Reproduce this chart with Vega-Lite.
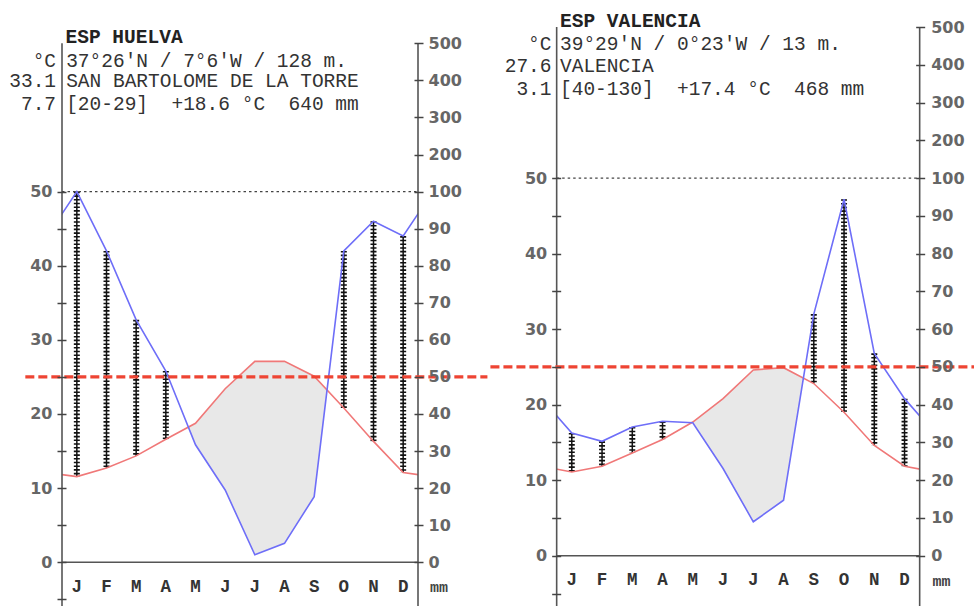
{
  "$schema": "https://vega.github.io/schema/vega-lite/v6.json",
  "background": "white",
  "padding": {"left": 9, "top": 11, "right": 0, "bottom": 0},
  "spacing": 138.67,
  "bounds": "flush",
  "config": {"view": {"stroke": null}},
  "datasets": {
    "huelva": [
      {"m": 0, "month": "D", "t": 12.1, "p": 88, "wrap": true},
      {"m": 1, "month": "J", "t": 11.55, "p": 100},
      {"m": 2, "month": "F", "t": 12.7, "p": 84},
      {"m": 3, "month": "M", "t": 14.35, "p": 65.4},
      {"m": 4, "month": "A", "t": 16.6, "p": 51.6},
      {"m": 5, "month": "M", "t": 18.75, "p": 31.7},
      {"m": 6, "month": "J", "t": 23.4, "p": 19.5},
      {"m": 7, "month": "J", "t": 27.1, "p": 2},
      {"m": 8, "month": "A", "t": 27.1, "p": 5.1},
      {"m": 9, "month": "S", "t": 25.1, "p": 17.7},
      {"m": 10, "month": "O", "t": 20.8, "p": 84},
      {"m": 11, "month": "N", "t": 16.3, "p": 92},
      {"m": 12, "month": "D", "t": 12.1, "p": 88},
      {"m": 13, "month": "J", "t": 11.55, "p": 100, "wrap": true}
    ],
    "valencia": [
      {"m": 0, "month": "D", "t": 11.85, "p": 41.6, "wrap": true},
      {"m": 1, "month": "J", "t": 11.1, "p": 32.5},
      {"m": 2, "month": "F", "t": 11.85, "p": 30.3},
      {"m": 3, "month": "M", "t": 13.6, "p": 34.1},
      {"m": 4, "month": "A", "t": 15.4, "p": 35.6},
      {"m": 5, "month": "M", "t": 17.7, "p": 35.2},
      {"m": 6, "month": "J", "t": 20.8, "p": 23.1},
      {"m": 7, "month": "J", "t": 24.6, "p": 9.0},
      {"m": 8, "month": "A", "t": 24.9, "p": 14.7},
      {"m": 9, "month": "S", "t": 22.8, "p": 64},
      {"m": 10, "month": "O", "t": 19.0, "p": 94.4},
      {"m": 11, "month": "N", "t": 14.6, "p": 53.6},
      {"m": 12, "month": "D", "t": 11.85, "p": 41.6},
      {"m": 13, "month": "J", "t": 11.1, "p": 32.5, "wrap": true}
    ]
  },
  "hconcat": [
    {
      "width": 356,
      "height": 579,
      "data": {"name": "huelva"},
      "resolve": {"scale": {"y": "independent"}},
      "layer": [
        {
          "mark": {"type": "area", "color": "#e8e8e8", "clip": true},
          "encoding": {
            "x": {"field": "m", "type": "quantitative", "scale": {"domain": [0.5, 12.5], "nice": false, "zero": false},
              "axis": {"orient": "bottom", "offset": -48.7, "domain": false, "grid": false, "labels": false, "values": [0.5,1.5,2.5,3.5,4.5,5.5,6.5,7.5,8.5,9.5,10.5,11.5,12.5],
                "tickSize": 10, "tickColor": "#444", "tickWidth": 1.5, "title": null, "zindex": 1}},
            "y": {"field": "t", "type": "quantitative", "scale": {"domain": [-5.9, 72.2], "nice": false, "zero": false},
              "axis": {"orient": "left", "offset": -4, "domain": false, "grid": false, "values": [-5,0,5,10,15,20,25,30,35,40,45,50],
                "tickSize": 9, "tickColor": "#444", "tickWidth": 1.5,
                "labelExpr": "datum.value % 10 == 0 && datum.value >= 0 ? datum.label : ''",
                "labelPadding": 5, "labelFont": "DejaVu Sans", "labelFontWeight": "bold", "labelFontSize": 16, "labelColor": "#666",
                "labelOverlap": false, "labelFlush": false, "title": null, "zindex": 1}},
            "y2": {"datum": 0}
          }
        },
        {
          "layer": [
            {
              "mark": {"type": "area", "color": "white", "clip": true},
              "encoding": {
                "x": {"field": "m", "type": "quantitative", "scale": {"domain": [0.5, 12.5], "nice": false, "zero": false}, "axis": null},
                "y": {"field": "p", "type": "quantitative", "scale": {"domain": [-11.8, 144.4], "nice": false, "zero": false},
                  "axis": {"orient": "right", "offset": -4, "domain": false, "grid": false, "values": [0,10,20,30,40,50,60,70,80,90,100,110,120,130,140],
                    "tickSize": 9, "tickColor": "#444", "tickWidth": 1.5,
                    "labelExpr": "datum.value <= 100 ? datum.label : format((datum.value - 100) * 10 + 100, 'd')",
                    "labelPadding": 5, "labelFont": "DejaVu Sans", "labelFontWeight": "bold", "labelFontSize": 16, "labelColor": "#666",
                    "labelOverlap": false, "labelFlush": false, "title": null, "zindex": 1}},
                "y2": {"datum": 0}
              }
            },
            {
              "transform": [{"filter": "datum.m >= 1 && datum.m <= 12 && datum.p > 2 * datum.t"}],
              "mark": {"type": "rule", "stroke": "#111", "strokeWidth": 1.5, "clip": true},
              "encoding": {
                "x": {"field": "m", "type": "quantitative", "scale": {"domain": [0.5, 12.5], "nice": false, "zero": false}, "axis": null},
                "y": {"field": "p", "type": "quantitative", "scale": {"domain": [-11.8, 144.4], "nice": false, "zero": false}},
                "y2": {"datum": 0}
              }
            },
            {
              "transform": [{"filter": "datum.m >= 1 && datum.m <= 12 && datum.p > 2 * datum.t"}],
              "mark": {"type": "rule", "stroke": "#111", "strokeWidth": 6, "strokeDash": [1.6, 2.1], "clip": true},
              "encoding": {
                "x": {"field": "m", "type": "quantitative", "scale": {"domain": [0.5, 12.5], "nice": false, "zero": false}, "axis": null},
                "y": {"field": "p", "type": "quantitative", "scale": {"domain": [-11.8, 144.4], "nice": false, "zero": false}},
                "y2": {"datum": 0}
              }
            }
          ]
        },
        {
          "layer": [
            {
              "transform": [{"filter": "datum.m >= 1 && datum.m <= 12 && datum.p > 2 * datum.t"}],
              "mark": {"type": "rule", "stroke": "white", "strokeWidth": 8, "clip": true},
              "encoding": {
                "x": {"field": "m", "type": "quantitative", "scale": {"domain": [0.5, 12.5], "nice": false, "zero": false}, "axis": null},
                "y": {"field": "t", "type": "quantitative", "scale": {"domain": [-5.9, 72.2], "nice": false, "zero": false}, "axis": null},
                "y2": {"datum": 0}
              }
            },
            {
              "mark": {"type": "line", "stroke": "#f07878", "strokeWidth": 1.6, "clip": true},
              "encoding": {
                "x": {"field": "m", "type": "quantitative", "scale": {"domain": [0.5, 12.5], "nice": false, "zero": false}, "axis": null},
                "y": {"field": "t", "type": "quantitative", "scale": {"domain": [-5.9, 72.2], "nice": false, "zero": false}, "axis": null}
              }
            },
            {
              "transform": [{"filter": "datum.m >= 1 && datum.m <= 12"}],
              "mark": {"type": "text", "align": "center", "baseline": "middle", "font": "Liberation Mono", "fontSize": 17.5, "fontWeight": "bold", "color": "#333"},
              "encoding": {
                "x": {"field": "m", "type": "quantitative", "scale": {"domain": [0.5, 12.5], "nice": false, "zero": false}, "axis": null},
                "y": {"datum": -3.33, "type": "quantitative", "scale": {"domain": [-5.9, 72.2], "nice": false, "zero": false}, "axis": null},
                "text": {"field": "month"}
              }
            }
          ]
        },
        {
          "mark": {"type": "line", "stroke": "#6e6ef8", "strokeWidth": 1.6, "clip": true},
          "encoding": {
            "x": {"field": "m", "type": "quantitative", "scale": {"domain": [0.5, 12.5], "nice": false, "zero": false}, "axis": null},
            "y": {"field": "p", "type": "quantitative", "scale": {"domain": [-11.8, 144.4], "nice": false, "zero": false}, "axis": null}
          }
        },
        {
          "data": {"values": [{}]},
          "layer": [
            {"mark": {"type": "rule", "stroke": "#555", "strokeWidth": 1.6},
             "encoding": {"x": {"datum": 0.5, "type": "quantitative", "scale": {"domain": [0.5, 12.5], "nice": false, "zero": false}, "axis": null},
               "y": {"datum": 70, "type": "quantitative", "scale": {"domain": [-5.9, 72.2], "nice": false, "zero": false}, "axis": null}, "y2": {"datum": -5.9}}},
            {"mark": {"type": "rule", "stroke": "#555", "strokeWidth": 1.6},
             "encoding": {"x": {"datum": 12.5, "type": "quantitative"}, "y": {"datum": 70, "type": "quantitative"}, "y2": {"datum": -5.9}}},
            {"mark": {"type": "rule", "stroke": "#555", "strokeWidth": 1.6},
             "encoding": {"x": {"datum": 0.5, "type": "quantitative"}, "x2": {"datum": 12.5}, "y": {"datum": 0, "type": "quantitative"}}},
            {"mark": {"type": "rule", "stroke": "#444", "strokeWidth": 1.3, "strokeDash": [2.5, 3]},
             "encoding": {"x": {"datum": 0.5, "type": "quantitative"}, "x2": {"datum": 12.5}, "y": {"datum": 50, "type": "quantitative"}}},
            {"mark": {"type": "rule", "stroke": "#ee4433", "strokeWidth": 3.2, "strokeDash": [9, 4]},
             "encoding": {"x": {"datum": -0.736, "type": "quantitative"}, "x2": {"datum": 14.84}, "y": {"datum": 25, "type": "quantitative"}}},
            {"mark": {"type": "text", "align": "center", "baseline": "middle", "font": "Liberation Mono", "fontSize": 15, "fontWeight": "bold", "color": "#444"},
             "encoding": {"x": {"datum": 13.21, "type": "quantitative"}, "y": {"datum": -3.37, "type": "quantitative"}, "text": {"value": "mm"}}},
            {"mark": {"type": "text", "align": "left", "baseline": "middle", "font": "Liberation Mono", "fontSize": 19.5, "fontWeight": "bold", "color": "#222"},
             "encoding": {"x": {"datum": 0.62, "type": "quantitative"}, "y": {"datum": 70.79, "type": "quantitative"}, "text": {"value": "ESP HUELVA"}}},
            {"mark": {"type": "text", "align": "left", "baseline": "middle", "font": "Liberation Mono", "fontSize": 19.5, "color": "#333"},
             "encoding": {"x": {"datum": 0.64, "type": "quantitative"}, "y": {"datum": 67.61, "type": "quantitative"}, "text": {"value": "37°26'N / 7°6'W / 128 m."}}},
            {"mark": {"type": "text", "align": "left", "baseline": "middle", "font": "Liberation Mono", "fontSize": 19.5, "color": "#333"},
             "encoding": {"x": {"datum": 0.64, "type": "quantitative"}, "y": {"datum": 64.91, "type": "quantitative"}, "text": {"value": "SAN BARTOLOME DE LA TORRE"}}},
            {"mark": {"type": "text", "align": "left", "baseline": "middle", "font": "Liberation Mono", "fontSize": 19.5, "color": "#333"},
             "encoding": {"x": {"datum": 0.64, "type": "quantitative"}, "y": {"datum": 61.81, "type": "quantitative"}, "text": {"value": "[20-29]\u00a0\u00a0+18.6 °C\u00a0\u00a0640 mm"}}},
            {"mark": {"type": "text", "align": "right", "baseline": "middle", "font": "Liberation Mono", "fontSize": 19.5, "color": "#333"},
             "encoding": {"x": {"datum": 0.3, "type": "quantitative"}, "y": {"datum": 67.61, "type": "quantitative"}, "text": {"value": "°C"}}},
            {"mark": {"type": "text", "align": "right", "baseline": "middle", "font": "Liberation Mono", "fontSize": 19.5, "color": "#333"},
             "encoding": {"x": {"datum": 0.3, "type": "quantitative"}, "y": {"datum": 64.91, "type": "quantitative"}, "text": {"value": "33.1"}}},
            {"mark": {"type": "text", "align": "right", "baseline": "middle", "font": "Liberation Mono", "fontSize": 19.5, "color": "#333"},
             "encoding": {"x": {"datum": 0.3, "type": "quantitative"}, "y": {"datum": 61.81, "type": "quantitative"}, "text": {"value": "7.7"}}}
          ]
        }
      ]
    },
    {
      "width": 363,
      "height": 579,
      "data": {"name": "valencia"},
      "resolve": {"scale": {"y": "independent"}},
      "layer": [
        {
          "mark": {"type": "area", "color": "#e8e8e8", "clip": true},
          "encoding": {
            "x": {"field": "m", "type": "quantitative", "scale": {"domain": [0.5, 12.5], "nice": false, "zero": false},
              "axis": {"orient": "bottom", "offset": -55.2, "domain": false, "grid": false, "labels": false, "values": [0.5,1.5,2.5,3.5,4.5,5.5,6.5,7.5,8.5,9.5,10.5,11.5,12.5],
                "tickSize": 10, "tickColor": "#444", "tickWidth": 1.5, "title": null, "zindex": 1}},
            "y": {"field": "t", "type": "quantitative", "scale": {"domain": [-6.65, 70], "nice": false, "zero": false},
              "axis": {"orient": "left", "offset": -4, "domain": false, "grid": false, "values": [-5,0,5,10,15,20,25,30,35,40,45,50],
                "tickSize": 9, "tickColor": "#444", "tickWidth": 1.5,
                "labelExpr": "datum.value % 10 == 0 && datum.value >= 0 ? datum.label : ''",
                "labelPadding": 5, "labelFont": "DejaVu Sans", "labelFontWeight": "bold", "labelFontSize": 16, "labelColor": "#666",
                "labelOverlap": false, "labelFlush": false, "title": null, "zindex": 1}},
            "y2": {"datum": 0}
          }
        },
        {
          "layer": [
            {
              "mark": {"type": "area", "color": "white", "clip": true},
              "encoding": {
                "x": {"field": "m", "type": "quantitative", "scale": {"domain": [0.5, 12.5], "nice": false, "zero": false}, "axis": null},
                "y": {"field": "p", "type": "quantitative", "scale": {"domain": [-13.3, 140], "nice": false, "zero": false},
                  "axis": {"orient": "right", "offset": -4, "domain": false, "grid": false, "values": [0,10,20,30,40,50,60,70,80,90,100,110,120,130,140],
                    "tickSize": 9, "tickColor": "#444", "tickWidth": 1.5,
                    "labelExpr": "datum.value <= 100 ? datum.label : format((datum.value - 100) * 10 + 100, 'd')",
                    "labelPadding": 6, "labelFont": "DejaVu Sans", "labelFontWeight": "bold", "labelFontSize": 16, "labelColor": "#666",
                    "labelOverlap": false, "labelFlush": false, "title": null, "zindex": 1}},
                "y2": {"datum": 0}
              }
            },
            {
              "transform": [{"filter": "datum.m >= 1 && datum.m <= 12 && datum.p > 2 * datum.t"}],
              "mark": {"type": "rule", "stroke": "#111", "strokeWidth": 1.5, "clip": true},
              "encoding": {
                "x": {"field": "m", "type": "quantitative", "scale": {"domain": [0.5, 12.5], "nice": false, "zero": false}, "axis": null},
                "y": {"field": "p", "type": "quantitative", "scale": {"domain": [-13.3, 140], "nice": false, "zero": false}},
                "y2": {"datum": 0}
              }
            },
            {
              "transform": [{"filter": "datum.m >= 1 && datum.m <= 12 && datum.p > 2 * datum.t"}],
              "mark": {"type": "rule", "stroke": "#111", "strokeWidth": 6, "strokeDash": [1.6, 2.1], "clip": true},
              "encoding": {
                "x": {"field": "m", "type": "quantitative", "scale": {"domain": [0.5, 12.5], "nice": false, "zero": false}, "axis": null},
                "y": {"field": "p", "type": "quantitative", "scale": {"domain": [-13.3, 140], "nice": false, "zero": false}},
                "y2": {"datum": 0}
              }
            }
          ]
        },
        {
          "layer": [
            {
              "transform": [{"filter": "datum.m >= 1 && datum.m <= 12 && datum.p > 2 * datum.t"}],
              "mark": {"type": "rule", "stroke": "white", "strokeWidth": 8, "clip": true},
              "encoding": {
                "x": {"field": "m", "type": "quantitative", "scale": {"domain": [0.5, 12.5], "nice": false, "zero": false}, "axis": null},
                "y": {"field": "t", "type": "quantitative", "scale": {"domain": [-6.65, 70], "nice": false, "zero": false}, "axis": null},
                "y2": {"datum": 0}
              }
            },
            {
              "mark": {"type": "line", "stroke": "#f07878", "strokeWidth": 1.6, "clip": true},
              "encoding": {
                "x": {"field": "m", "type": "quantitative", "scale": {"domain": [0.5, 12.5], "nice": false, "zero": false}, "axis": null},
                "y": {"field": "t", "type": "quantitative", "scale": {"domain": [-6.65, 70], "nice": false, "zero": false}, "axis": null}
              }
            },
            {
              "transform": [{"filter": "datum.m >= 1 && datum.m <= 12"}],
              "mark": {"type": "text", "align": "center", "baseline": "middle", "font": "Liberation Mono", "fontSize": 17.5, "fontWeight": "bold", "color": "#333"},
              "encoding": {
                "x": {"field": "m", "type": "quantitative", "scale": {"domain": [0.5, 12.5], "nice": false, "zero": false}, "axis": null},
                "y": {"datum": -3.25, "type": "quantitative", "scale": {"domain": [-6.65, 70], "nice": false, "zero": false}, "axis": null},
                "text": {"field": "month"}
              }
            }
          ]
        },
        {
          "mark": {"type": "line", "stroke": "#6e6ef8", "strokeWidth": 1.6, "clip": true},
          "encoding": {
            "x": {"field": "m", "type": "quantitative", "scale": {"domain": [0.5, 12.5], "nice": false, "zero": false}, "axis": null},
            "y": {"field": "p", "type": "quantitative", "scale": {"domain": [-13.3, 140], "nice": false, "zero": false}, "axis": null}
          }
        },
        {
          "data": {"values": [{}]},
          "layer": [
            {"mark": {"type": "rule", "stroke": "#555", "strokeWidth": 1.6},
             "encoding": {"x": {"datum": 0.5, "type": "quantitative", "scale": {"domain": [0.5, 12.5], "nice": false, "zero": false}, "axis": null},
               "y": {"datum": 70, "type": "quantitative", "scale": {"domain": [-6.65, 70], "nice": false, "zero": false}, "axis": null}, "y2": {"datum": -6.65}}},
            {"mark": {"type": "rule", "stroke": "#555", "strokeWidth": 1.6},
             "encoding": {"x": {"datum": 12.5, "type": "quantitative"}, "y": {"datum": 70, "type": "quantitative"}, "y2": {"datum": -6.65}}},
            {"mark": {"type": "rule", "stroke": "#555", "strokeWidth": 1.6},
             "encoding": {"x": {"datum": 0.5, "type": "quantitative"}, "x2": {"datum": 12.5}, "y": {"datum": 0, "type": "quantitative"}}},
            {"mark": {"type": "rule", "stroke": "#444", "strokeWidth": 1.3, "strokeDash": [2.5, 3]},
             "encoding": {"x": {"datum": 0.5, "type": "quantitative"}, "x2": {"datum": 12.5}, "y": {"datum": 50, "type": "quantitative"}}},
            {"mark": {"type": "rule", "stroke": "#ee4433", "strokeWidth": 3.2, "strokeDash": [9, 4]},
             "encoding": {"x": {"datum": -1.69, "type": "quantitative"}, "x2": {"datum": 14.3}, "y": {"datum": 25, "type": "quantitative"}}},
            {"mark": {"type": "text", "align": "center", "baseline": "middle", "font": "Liberation Mono", "fontSize": 15, "fontWeight": "bold", "color": "#444"},
             "encoding": {"x": {"datum": 13.22, "type": "quantitative"}, "y": {"datum": -3.34, "type": "quantitative"}, "text": {"value": "mm"}}},
            {"mark": {"type": "text", "align": "left", "baseline": "middle", "font": "Liberation Mono", "fontSize": 19.5, "fontWeight": "bold", "color": "#222"},
             "encoding": {"x": {"datum": 0.61, "type": "quantitative"}, "y": {"datum": 70.78, "type": "quantitative"}, "text": {"value": "ESP VALENCIA"}}},
            {"mark": {"type": "text", "align": "left", "baseline": "middle", "font": "Liberation Mono", "fontSize": 19.5, "color": "#333"},
             "encoding": {"x": {"datum": 0.61, "type": "quantitative"}, "y": {"datum": 67.8, "type": "quantitative"}, "text": {"value": "39°29'N / 0°23'W / 13 m."}}},
            {"mark": {"type": "text", "align": "left", "baseline": "middle", "font": "Liberation Mono", "fontSize": 19.5, "color": "#333"},
             "encoding": {"x": {"datum": 0.61, "type": "quantitative"}, "y": {"datum": 64.82, "type": "quantitative"}, "text": {"value": "VALENCIA"}}},
            {"mark": {"type": "text", "align": "left", "baseline": "middle", "font": "Liberation Mono", "fontSize": 19.5, "color": "#333"},
             "encoding": {"x": {"datum": 0.61, "type": "quantitative"}, "y": {"datum": 61.78, "type": "quantitative"}, "text": {"value": "[40-130]\u00a0\u00a0+17.4 °C\u00a0\u00a0468 mm"}}},
            {"mark": {"type": "text", "align": "right", "baseline": "middle", "font": "Liberation Mono", "fontSize": 19.5, "color": "#333"},
             "encoding": {"x": {"datum": 0.33, "type": "quantitative"}, "y": {"datum": 67.8, "type": "quantitative"}, "text": {"value": "°C"}}},
            {"mark": {"type": "text", "align": "right", "baseline": "middle", "font": "Liberation Mono", "fontSize": 19.5, "color": "#333"},
             "encoding": {"x": {"datum": 0.33, "type": "quantitative"}, "y": {"datum": 64.82, "type": "quantitative"}, "text": {"value": "27.6"}}},
            {"mark": {"type": "text", "align": "right", "baseline": "middle", "font": "Liberation Mono", "fontSize": 19.5, "color": "#333"},
             "encoding": {"x": {"datum": 0.33, "type": "quantitative"}, "y": {"datum": 61.78, "type": "quantitative"}, "text": {"value": "3.1"}}}
          ]
        }
      ]
    }
  ]
}
